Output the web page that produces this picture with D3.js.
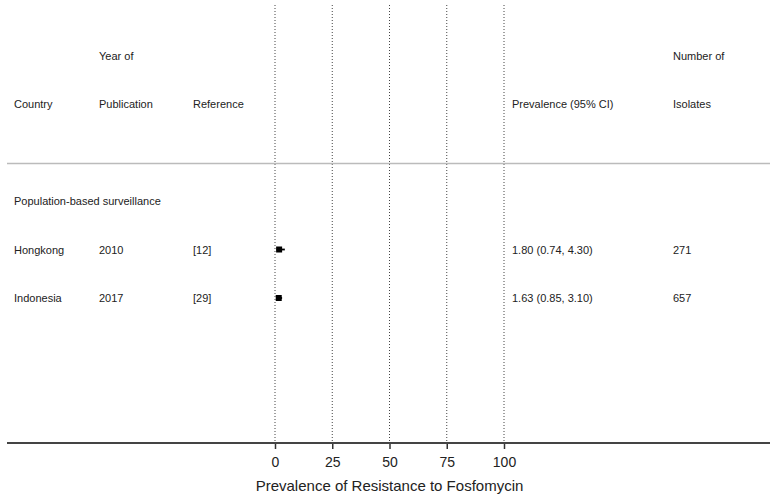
<!DOCTYPE html>
<html><head><meta charset="utf-8">
<script src="https://cdn.jsdelivr.net/npm/d3@7"></script>
<style>body{margin:0;background:#fff}svg{display:block}text{font-family:"Liberation Sans",Arial,Helvetica,sans-serif;fill:#222}</style>
</head><body><svg id="c" width="777" height="496"></svg>
<script>
const countries = ["Hongkong", "Indonesia"];
const years = ["2010", "2017"];
const references = ["[12]", "[29]"];
const prevalence = [1.80, 1.63];
const ciLow = [0.74, 0.85];
const ciHigh = [4.30, 3.10];
const isolates = ["271", "657"];
const groupLabel = "Population-based surveillance";
const xTicks = [0, 25, 50, 75, 100];

const svg = d3.select("#c");
const x = d3.scaleLinear().domain([0, 100]).range([275, 504]);
const rowY = d3.scalePoint().domain(["group", ...countries]).range([201, 298]);

// dotted reference lines
svg.selectAll("line.ref").data(xTicks).join("line")
  .attr("x1", d => x(d)).attr("x2", d => x(d))
  .attr("y1", 5).attr("y2", 441)
  .attr("stroke", "#444").attr("stroke-width", 1).attr("stroke-dasharray", "1,2");

// header
const hdr = svg.append("g").style("font-size", "11px");
hdr.append("text").attr("x", 14).attr("y", 108).text("Country");
hdr.append("text").attr("x", 99).attr("y", 60).text("Year of");
hdr.append("text").attr("x", 99).attr("y", 108).text("Publication");
hdr.append("text").attr("x", 193).attr("y", 108).text("Reference");
hdr.append("text").attr("x", 512).attr("y", 108).text("Prevalence (95% CI)");
hdr.append("text").attr("x", 673).attr("y", 60).text("Number of");
hdr.append("text").attr("x", 673).attr("y", 108).text("Isolates");

svg.append("line").attr("x1", 7).attr("x2", 770).attr("y1", 163.5).attr("y2", 163.5)
  .attr("stroke", "#bbb").attr("stroke-width", 1.3);

svg.append("text").attr("x", 14).attr("y", rowY("group") + 4).style("font-size", "11px").text(groupLabel);

const rows = svg.selectAll("g.row").data(countries).join("g").attr("class", "row").style("font-size", "11px");
rows.append("text").attr("x", 14).attr("y", (d) => rowY(d) + 4).text(d => d);
rows.append("text").attr("x", 99).attr("y", (d) => rowY(d) + 4).text((d, i) => years[i]);
rows.append("text").attr("x", 193).attr("y", (d) => rowY(d) + 4).text((d, i) => references[i]);
rows.append("text").attr("x", 512).attr("y", (d) => rowY(d) + 4)
  .text((d, i) => `${prevalence[i].toFixed(2)} (${ciLow[i].toFixed(2)}, ${ciHigh[i].toFixed(2)})`);
rows.append("text").attr("x", 673).attr("y", (d) => rowY(d) + 4).text((d, i) => isolates[i]);

// CI lines and point estimates
rows.append("line")
  .attr("x1", (d, i) => x(ciLow[i])).attr("x2", (d, i) => x(ciHigh[i]))
  .attr("y1", d => rowY(d)).attr("y2", d => rowY(d))
  .attr("stroke", "#000").attr("stroke-width", 1.8);
rows.append("rect")
  .attr("x", (d, i) => x(prevalence[i]) - 3).attr("y", d => rowY(d) - 3)
  .attr("width", 6).attr("height", 6).attr("fill", "#000");

// axis
const axis = d3.axisBottom(x).tickValues(xTicks).tickSize(6).tickPadding(8).tickFormat(d3.format("d"));
const ag = svg.append("g").attr("transform", "translate(0,443)").call(axis);
ag.select(".domain").remove();
ag.selectAll(".tick line").attr("stroke", "#333").attr("stroke-width", 1.5);
ag.selectAll(".tick text").style("font-size", "14px").style("font-family", '"Liberation Sans",Arial,sans-serif').attr("fill", "#222");
svg.append("line").attr("x1", 7).attr("x2", 770).attr("y1", 443).attr("y2", 443)
  .attr("stroke", "#444").attr("stroke-width", 2);

svg.append("text").attr("x", x(50)).attr("y", 491).attr("text-anchor", "middle")
  .style("font-size", "15px").text("Prevalence of Resistance to Fosfomycin");
</script></body></html>
